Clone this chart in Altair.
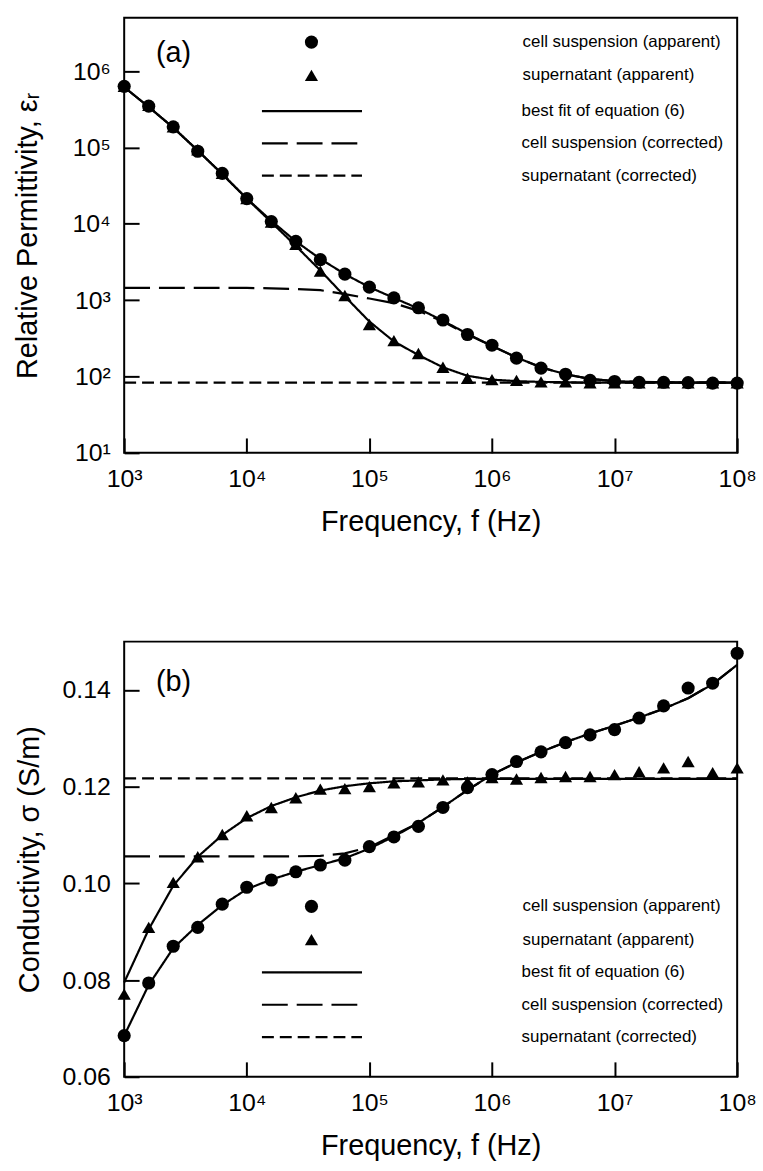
import altair as alt
import pandas as pd

FONT = "Liberation Sans"

# ---------------- data ----------------
FREQ = [1.0e3, 1.585e3, 2.512e3, 3.981e3, 6.310e3,
        1.0e4, 1.585e4, 2.512e4, 3.981e4, 6.310e4,
        1.0e5, 1.585e5, 2.512e5, 3.981e5, 6.310e5,
        1.0e6, 1.585e6, 2.512e6, 3.981e6, 6.310e6,
        1.0e7, 1.585e7, 2.512e7, 3.981e7, 6.310e7, 1.0e8]
FREQ_ENDS = [1.0e3, 1.0e8]

# panel (a) relative permittivity
EPS_CELL = [631000, 347000, 186000, 89100, 45700, 21400, 10700, 5890, 3390, 2190,
            1480, 1070, 794, 550, 355, 257, 174, 129, 107, 89,
            86, 84, 84, 83, 82, 82]
EPS_SUP = [631000, 355000, 186000, 93300, 45700, 21400, 10500, 5370, 2400, 1150,
           479, 295, 200, 132, 95, 91, 89, 85, 85, 83,
           83, 83, 83, 83, 83, 83]
EPS_CELL_FIT = [616600, 338800, 182000, 91200, 44700, 21400, 10960, 5890, 3470, 2190,
                1480, 1070, 776, 537, 363, 251, 178, 132, 107, 93,
                87, 85, 84, 83, 83, 83]
EPS_SUP_FIT = [616600, 338800, 182000, 91200, 44700, 21400, 10500, 5130, 2450, 1120,
               525, 288, 191, 132, 102, 91, 87, 85, 84, 83,
               83, 83, 83, 83, 83, 83]
EPS_CELL_COR = [1445, 1445, 1445, 1445, 1445, 1445, 1430, 1400, 1350, 1200,
                1050, 912, 724, 525, 355, 251, 178, 132, 107, 93,
                87, 85, 84, 83, 83, 83]
EPS_SUP_COR = [83, 83]

# panel (b) conductivity (S/m)
SIG_CELL = [0.0685, 0.0794, 0.0870, 0.0909, 0.0957, 0.0992, 0.1007, 0.1024, 0.1038, 0.1048,
            0.1076, 0.1096, 0.1118, 0.1157, 0.1198, 0.1225, 0.1252, 0.1272, 0.1291, 0.1307,
            0.1318, 0.1342, 0.1367, 0.1404, 0.1414, 0.1476]
SIG_SUP = [0.0771, 0.0909, 0.1002, 0.1055, 0.1101, 0.1140, 0.1157, 0.1177, 0.1195, 0.1196,
           0.1200, 0.1208, 0.1210, 0.1214, 0.1210, 0.1219, 0.1216, 0.1219, 0.1221, 0.1221,
           0.1225, 0.1231, 0.1239, 0.1252, 0.1229, 0.1239]
SIG_CELL_FIT = [0.0685, 0.0790, 0.0866, 0.0914, 0.0955, 0.0988, 0.1008, 0.1024, 0.1038, 0.1052,
                0.1072, 0.1097, 0.1125, 0.1158, 0.1193, 0.1225, 0.1250, 0.1272, 0.1292, 0.1310,
                0.1326, 0.1343, 0.1361, 0.1383, 0.1412, 0.1452]
SIG_SUP_FIT = [0.0795, 0.0905, 0.0995, 0.1055, 0.1100, 0.1135, 0.1160, 0.1178, 0.1192, 0.1201,
               0.1207, 0.1211, 0.1213, 0.1215, 0.1216, 0.1216, 0.1216, 0.1216, 0.1216, 0.1216,
               0.1216, 0.1216, 0.1216, 0.1216, 0.1216, 0.1216]
SIG_CELL_COR = [0.1056, 0.1056, 0.1056, 0.1056, 0.1056, 0.1056, 0.1056, 0.1056, 0.1057, 0.1062,
                0.1075, 0.1100, 0.1125, 0.1158, 0.1193, 0.1225, 0.1250, 0.1272, 0.1292, 0.1310,
                0.1326, 0.1343, 0.1361, 0.1383, 0.1412, 0.1452]
SIG_SUP_COR = [0.1217, 0.1217]

POINT_SERIES = ["cell suspension (apparent)", "supernatant (apparent)"]
LINE_STYLES = ["best fit of equation (6)", "cell suspension (corrected)", "supernatant (corrected)"]

X_TICKS = [1e3, 1e4, 1e5, 1e6, 1e7, 1e8]
EPS_TICKS = [1e1, 1e2, 1e3, 1e4, 1e5, 1e6]
SIG_TICKS = [0.06, 0.08, 0.10, 0.12, 0.14]


def points_frame(cell, sup):
    rows = []
    for f, v in zip(FREQ, cell):
        rows.append({"f": f, "v": v, "series": POINT_SERIES[0]})
    for f, v in zip(FREQ, sup):
        rows.append({"f": f, "v": v, "series": POINT_SERIES[1]})
    return pd.DataFrame(rows)


def lines_frame(cell_fit, sup_fit, cell_cor, sup_cor):
    rows = []
    for f, v in zip(FREQ, cell_fit):
        rows.append({"f": f, "v": v, "style": LINE_STYLES[0], "curve": "cell fit"})
    for f, v in zip(FREQ, sup_fit):
        rows.append({"f": f, "v": v, "style": LINE_STYLES[0], "curve": "sup fit"})
    for f, v in zip(FREQ, cell_cor):
        rows.append({"f": f, "v": v, "style": LINE_STYLES[1], "curve": "cell cor"})
    for f, v in zip(FREQ_ENDS, sup_cor):
        rows.append({"f": f, "v": v, "style": LINE_STYLES[2], "curve": "sup cor"})
    return pd.DataFrame(rows)


SUP_EXPR = "'10' + ['\u2070','\u00b9','\u00b2','\u00b3','\u2074','\u2075','\u2076','\u2077','\u2078','\u2079'][round(log(datum.value)/LN10)]"

x_scale = alt.Scale(type="log", domain=[1e3, 1e8], nice=False)

# wide horizontal-line legend symbol (path scaled by sqrt(size)/2)
LINE_SYMBOL = "M-5.3,0H5.3"
LINE_SYMBOL_SIZE = 361


def x_axis():
    return alt.Axis(values=X_TICKS, labelExpr=SUP_EXPR, offset=-15, domain=False,
                    tickSize=15, tickWidth=2, tickColor="black", labelPadding=14,
                    labelFontSize=25, labelFont=FONT, labelColor="black",
                    labelFlush=False, labelOverlap=False, grid=False,
                    titleFontSize=29, titleFont=FONT, titleFontWeight="normal",
                    titleColor="black", titlePadding=16)


def y_axis(values, label_expr=None, fmt=None, title_pad=28):
    kw = dict(values=values, offset=-15, domain=False, tickSize=15, tickWidth=2,
              tickColor="black", labelPadding=14, labelFontSize=25, labelFont=FONT,
              labelColor="black", labelOverlap=False, labelFlush=False, grid=False,
              titleFontSize=29, titleFont=FONT, titleFontWeight="normal",
              titleColor="black", titlePadding=title_pad)
    if label_expr is not None:
        kw["labelExpr"] = label_expr
    if fmt is not None:
        kw["format"] = fmt
    return alt.Axis(**kw)


def panel(pts_df, lns_df, y_scale, yaxis, ytitle, tag, tag_y, leg_pts_y, leg_lines_y):
    x_enc = alt.X("f:Q", scale=x_scale, axis=x_axis(), title="Frequency, f (Hz)")
    y_enc = alt.Y("v:Q", scale=y_scale, axis=yaxis, title=ytitle)
    lines = alt.Chart(lns_df).mark_line(color="black", strokeWidth=2.2).encode(
        x=x_enc, y=y_enc,
        strokeDash=alt.StrokeDash(
            "style:N",
            scale=alt.Scale(domain=LINE_STYLES, range=[[1, 0], [26, 9], [12, 6]]),
            legend=alt.Legend(title=None, orient="none", legendX=178, legendY=leg_lines_y,
                              symbolType=LINE_SYMBOL, symbolSize=LINE_SYMBOL_SIZE,
                              symbolStrokeWidth=2.2, symbolStrokeColor="black",
                              labelOffset=200, labelFontSize=17,
                              labelFont=FONT, labelColor="black", rowPadding=13.5, padding=0,
                              labelLimit=400)),
        detail="curve:N",
    )
    pts = alt.Chart(pts_df).mark_point(filled=True, size=175, opacity=1, color="black").encode(
        x=x_enc, y=y_enc,
        shape=alt.Shape(
            "series:N",
            scale=alt.Scale(domain=POINT_SERIES, range=["circle", "triangle-up"]),
            legend=alt.Legend(title=None, orient="none", legendX=180, legendY=leg_pts_y,
                              symbolSize=175, symbolFillColor="black", symbolStrokeColor="black",
                              labelOffset=204, labelFontSize=17, labelFont=FONT,
                              labelColor="black", rowPadding=13.5, padding=0, labelLimit=400)),
    )
    label = alt.Chart(pd.DataFrame({"t": [tag]})).mark_text(
        fontSize=29, font=FONT, align="left", baseline="middle", color="black"
    ).encode(text="t:N", x=alt.value(32), y=alt.value(tag_y))
    return alt.layer(lines, pts, label).properties(width=617, height=438)


chart_a = panel(
    points_frame(EPS_CELL, EPS_SUP),
    lines_frame(EPS_CELL_FIT, EPS_SUP_FIT, EPS_CELL_COR, EPS_SUP_COR),
    alt.Scale(type="log", domain=[10, 5e6], nice=False),
    y_axis(EPS_TICKS, label_expr=SUP_EXPR, title_pad=30),
    "Relative Permittivity, \u03b5\u1d63",
    "(a)", 36, 16, 83,
)

chart_b = panel(
    points_frame(SIG_CELL, SIG_SUP),
    lines_frame(SIG_CELL_FIT, SIG_SUP_FIT, SIG_CELL_COR, SIG_SUP_COR),
    alt.Scale(domain=[0.06, 0.15], nice=False, zero=False),
    y_axis(SIG_TICKS, fmt=".2f", title_pad=18),
    "Conductivity, \u03c3 (S/m)",
    "(b)", 41, 258, 322,
)

chart = alt.vconcat(chart_a, chart_b, spacing=190, bounds="flush").resolve_scale(
    shape="independent", strokeDash="independent", x="independent", y="independent"
).resolve_legend(
    shape="independent", strokeDash="independent"
).properties(
    padding={"left": 12, "top": 13, "right": 5, "bottom": 5}
).configure(background="white").configure_view(stroke="black", strokeWidth=2)

chart.save("out.html", embed_options={"renderer": "svg", "actions": False})
